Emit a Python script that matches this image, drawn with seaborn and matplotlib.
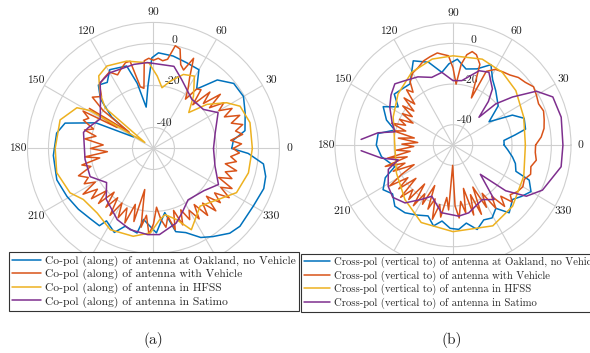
import numpy as np
import pandas as pd
import matplotlib
matplotlib.use("Agg")
import matplotlib.pyplot as plt
import seaborn as sns

# ---------------- data (angle in degrees, gain in dB) ----------------
series_a = ["Co-pol (along) of antenna at Oakland, no Vehicle",
            "Co-pol (along) of antenna with Vehicle",
            "Co-pol (along) of antenna in HFSS",
            "Co-pol (along) of antenna in Satimo"]
series_b = ["Cross-pol (vertical to) of antenna at Oakland, no Vehicle",
            "Cross-pol (vertical to) of antenna with Vehicle",
            "Cross-pol (vertical to) of antenna in HFSS",
            "Cross-pol (vertical to) of antenna in Satimo"]
angle_ticks = [0, 30, 60, 90, 120, 150, 180, 210, 240, 270, 300, 330]
r_ticks = [-40, -20, 0]

# (a) co-pol
ang_a_blue = [0, 6, 11, 21, 30, 39, 47, 54, 60, 69, 78, 87, 91, 95, 100, 104, 108, 119, 125, 131,
              137, 143, 150, 156, 164, 171, 184, 198, 209, 219, 228, 235, 237, 245, 250, 259, 262,
              272, 280, 285, 291, 298, 304, 312, 318, 330, 340, 346, 352, 357]
db_a_blue = [-12.7, -11.7, -5.6, -3.2, -0.5, -0.8, -5.4, -15, -6.7, -6.2, -5, -4.4, -6.8, -20, -30,
             -18, -8.7, -7.1, -11.6, -10, -15.5, -25, -39, -20, -6.2, -3.3, -2.2, -1.6, -2.9, -4,
             -5, -5.1, -8.9, -5.9, -10.6, -9, -15.9, -9.8, -19, -9, -7.1, -2, 0.6, 4.3, 5.4, 4.9,
             5.9, 5.1, 2.9, -4.8]

ang_a_orange = [0, 3, 6, 9, 12, 15, 18, 21, 24, 27, 30, 33, 36, 39, 42, 45, 48, 51, 54, 57, 60, 63,
                66, 69, 72, 75, 78, 81, 84, 87, 90, 93, 96, 99, 102, 105, 108, 112, 116, 120, 125,
                130, 135, 140, 143, 146, 148, 150, 152, 155, 158, 162, 165, 168, 172, 176, 180,
                184, 187, 190, 193, 196, 200, 204, 207, 210, 213, 216, 219, 222, 225, 228, 231,
                234, 237, 240, 243, 246, 249, 252, 255, 258, 261, 264, 267, 270, 273, 276, 279,
                282, 285, 288, 291, 294, 297, 300, 303, 306, 309, 312, 315, 318, 321, 324, 327,
                330, 333, 336, 339, 342, 345, 348, 351, 354, 357]
db_a_orange = [-12, -8, -13, -7, -10, -6, -11, -6, -13, -8, -14, -10, -17, -9, -18, -12, -22, -14,
               -15, -22, -17, -12, -3, -10, -8, -1, 0, -7, -8, -7, -8, -7, -8, -21, -20, -7, -7,
               -9, -11, -8, -9, -10, -15, -12, -20, -36, -14, -30, -12, -16, -14, -20, -16, -22,
               -17, -26, -20, -28, -17, -24, -15, -19, -12, -16, -13, -18, -10, -17, -12, -20,
               -13, -22, -14, -21, -12, -20, -13, -19, -12, -22, -14, -30, -12, -18, -9, -14,
               -22, -16, -12, -17, -10, -19, -11, -18, -12, -16, -10, -17, -9, -15, -8, -16, -9,
               -14, -7, -13, -8, -16, -10, -14, -9, -15, -10, -13, -9]

ang_a_yellow = [0, 15, 26, 32, 39.5, 45.5, 52.6, 60.5, 68, 76, 82, 87, 93, 107, 119.5, 127, 134,
                140, 145, 149, 152, 163, 180, 194, 208, 216, 229, 242, 257, 268, 275, 280, 288,
                295, 309, 323.5, 332, 345.6]
db_a_yellow = [-2.9, -2.4, -4.1, -8.9, -17, -26, -18.6, -10.4, -12, -17, -20.8, -15.5, -9.2, -6.5,
               -4.9, -6.7, -13.3, -20, -45, -15, -8.7, -3.5, -3.2, -2.5, -5, -8.7, -9.2, -6.2,
               -7.1, -9.8, -16, -18, -14.4, -7.3, -14.7, -10, -5.2, -3.3]

ang_a_purple = [0, 14, 29, 38, 52, 68, 76, 94, 103, 120, 129, 137, 151, 162, 167, 189, 204, 216,
                227, 243, 254, 266, 274, 287, 294, 304, 320, 331, 344]
db_a_purple = [-21.4, -19.7, -14.8, -19.8, -20.3, -14.4, -9.7, -9, -8.9, -8.4, -9.7, -15.5, -21,
               -17.5, -15.8, -17, -17, -22.4, -17, -12, -9.8, -8.9, -8.9, -12.9, -16.5, -20.5,
               -18.7, -14.6, -19.5]

# (b) cross-pol
ang_b_blue = [0, 5, 9, 12, 20, 26, 32, 40, 51, 58, 64, 72, 80, 87, 93, 99, 107, 116, 126, 140,
              146, 152, 160, 166, 171.5, 180, 189, 199.7, 205, 211.7, 218, 225.5, 233.8, 242, 250,
              256, 261.5, 268, 274, 280, 286.5, 293, 299, 305, 310.6, 318.5, 324, 330, 336, 338,
              344, 349, 355]
db_b_blue = [-24, -24, -18, -12.3, -11.5, -16.4, -28.4, -20, -15.5, -12, -6, -10.6, -12, -7.7,
             -10, -13.8, -7.4, -3.9, -12.8, -11, -16.4, -9.8, -14, -19.5, -11.5, -11, -13.2,
             -18.6, -12, -8.2, -11, -7.8, -8.7, -11, -12.9, -9, -12.2, -9, -8.4, -11, -6.7, -10,
             -9, -12, -6.1, -9.6, -7, -4.2, -7.6, -15.5, -17, -19.2, -22]

ang_b_orange = [0, 5, 10, 15, 20, 25, 30, 35, 40, 45, 50, 55, 60, 65, 68, 71, 75, 78, 81, 84, 87,
                90, 93, 97, 100, 105, 110, 115, 120, 125, 128, 131, 134, 137, 140, 143, 146, 149,
                152, 155, 158, 161, 164, 167, 170, 173, 176, 179, 182, 185, 188, 191, 194, 197,
                200, 203, 206, 209, 212, 215, 218, 221, 224, 227, 230, 233, 236, 239, 242, 245,
                248, 251, 254, 257, 260, 263, 266, 269, 272, 275, 278, 281, 284, 287, 290, 293,
                296, 299, 302, 305, 308, 311, 314, 317, 320, 325, 330, 335, 340, 345, 350, 355]
db_b_orange = [-8, -5, -3, -2, -1, -2, -1, 0, -2, -3, -5, -6, -7, -10, -25, -8, -4, -3, -5, -10,
               -20, -12, -6, -5, -4, -5, -6, -8, -9, -12, -17, -14, -22, -16, -24, -18, -25, -20,
               -27, -20, -24, -17, -25, -19, -30, -22, -32, -24, -30, -21, -28, -16, -26, -14,
               -24, -17, -28, -20, -12, -22, -15, -25, -13, -20, -15, -26, -14, -22, -17, -28,
               -16, -22, -12, -20, -14, -24, -18, -40, -20, -14, -22, -16, -28, -14, -24, -13,
               -27, -15, -22, -12, -18, -10, -15, -9, -12, -10, -9, -10, -8, -9, -7, -8]

ang_b_yellow = [0, 21, 40, 55, 70.6, 90, 104, 120.4, 138, 155.6, 180, 205.7, 227.7, 247, 270, 297,
                315.2, 337]
db_b_yellow = [-13.2, -11.5, -8.3, -6.3, -5.2, -6.1, -6.4, -8.5, -12.4, -16.6, -20.4, -18.1,
               -13.7, -8.6, -7.4, -5.4, -7.3, -10.9]

ang_b_purple = [-176.6, -170, -165.3, -160, -148.4, -140, -130.6, -121, -113.2, -100, -85.3, -76.5,
                -61, -52, -46, -40, -34, -26, -11, 0, 14, 25, 32, 38, 43, 46, 50, 54, 63, 70, 82,
                90, 99, 108, 118, 127.6, 134.5, 142, 149.8, 160, 167.6, 171, 176.6]
db_b_purple = [-3.2, -13, -21.2, -15, -11.3, -10, -12.5, -18.8, -22.6, -16.2, -14.9, -15.7, -19.3,
               -16, -30, -15, -5, 0.6, 6, 5.9, 6.7, 6, 0, -11.6, -20.3, -31, -22, -15.9, -9.8,
               -11.1, -18, -18.3, -13.8, -15, -12, -10, -7.8, -10, -12.8, -17, -19.7, -11.4, -3.2]

colors = ["#0072BD", "#D95319", "#EDB120", "#7E2F8E"]


def closed(a, v):
    return list(a) + [a[0] + 360], list(v) + [v[0]]


def frame(names, pairs, close_flags):
    rows = []
    for name, (a, v), c in zip(names, pairs, close_flags):
        if c:
            a, v = closed(a, v)
        for k, (ai, vi) in enumerate(zip(a, v)):
            rows.append({"series": name, "theta": np.deg2rad(ai), "r": vi, "order": k})
    return pd.DataFrame(rows)


df_a = frame(series_a, [(ang_a_blue, db_a_blue), (ang_a_orange, db_a_orange),
                        (ang_a_yellow, db_a_yellow), (ang_a_purple, db_a_purple)],
             [True, True, True, True])
df_b = frame(series_b, [(ang_b_blue, db_b_blue), (ang_b_orange, db_b_orange),
                        (ang_b_yellow, db_b_yellow), (ang_b_purple, db_b_purple)],
             [True, True, True, False])

# ---------------- styling ----------------
sns.set_theme(style="white")
plt.rcParams["font.family"] = ["cmr10", "DejaVu Serif"]
plt.rcParams["axes.unicode_minus"] = False
plt.rcParams["mathtext.fontset"] = "cm"

fig = plt.figure(figsize=(5.9, 3.53), dpi=100)
fig.patch.set_facecolor("white")

ax_a = fig.add_axes([0.0466, 0.2224, 0.427, 0.714], projection="polar")
ax_b = fig.add_axes([0.5678, 0.2436, 0.400, 0.691], projection="polar")

grid_col = "#cfcfcf"
for ax, df, names in [(ax_a, df_a, series_a), (ax_b, df_b, series_b)]:
    sns.lineplot(data=df, x="theta", y="r", hue="series", hue_order=names,
                 palette=colors, sort=False, estimator=None, units="series",
                 linewidth=1.1, ax=ax, legend=False)
    ax.set_aspect("auto")
    ax.set_ylim(-50, 10)
    ax.set_rticks(r_ticks)
    ax.set_yticklabels([str(t) for t in r_ticks])
    ax.set_rlabel_position(80)
    ax.set_thetagrids(angle_ticks, labels=[str(t) for t in angle_ticks])
    ax.set_xlabel("")
    ax.set_ylabel("")
    ax.grid(True, color=grid_col, linewidth=0.8)
    ax.spines["polar"].set_color(grid_col)
    ax.spines["polar"].set_linewidth(0.8)
    ax.tick_params(axis="x", labelsize=8.4, pad=0, length=0, colors="#222222")
    ax.tick_params(axis="y", labelsize=8.4, length=0, colors="#222222")
    ax.set_facecolor("white")

handles_a = ax_a.get_lines()[:4]
handles_b = ax_b.get_lines()[:4]

leg_a = fig.legend(handles_a, series_a, loc="upper left", bbox_to_anchor=(0.0153, 0.2861),
                   fontsize=8.3, frameon=True, fancybox=False, framealpha=1, edgecolor="#333333",
                   handlelength=2.5, handletextpad=0.3, labelspacing=0.2, borderpad=0.3,
                   borderaxespad=0)
leg_a.get_frame().set_linewidth(0.8)
leg_b = fig.legend(handles_b, series_b, loc="upper left", bbox_to_anchor=(0.510, 0.2805),
                   fontsize=7.7, frameon=True, fancybox=False, framealpha=1, edgecolor="#333333",
                   handlelength=2.5, handletextpad=0.3, labelspacing=0.22, borderpad=0.25,
                   borderaxespad=0)
leg_b.get_frame().set_linewidth(0.8)

fig.text(153 / 590, 1 - 340 / 353, "(a)", ha="center", va="center", fontsize=11)
fig.text(452 / 590, 1 - 340 / 353, "(b)", ha="center", va="center", fontsize=11)

fig.savefig("out.png", dpi=100, facecolor="white")
